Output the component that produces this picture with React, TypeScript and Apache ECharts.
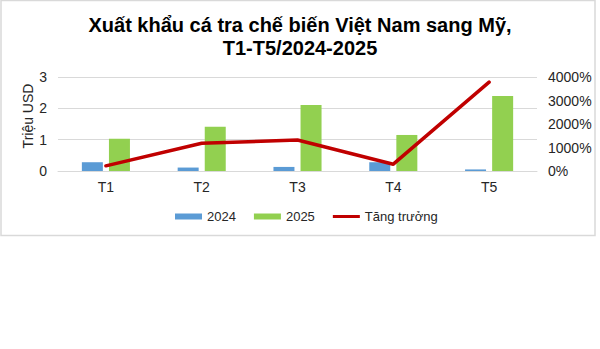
import React, { useEffect, useRef } from "react";
import * as echarts from "echarts";

// Months
const categories = ["T1", "T2", "T3", "T4", "T5"];
// Export value, million USD
const values2024 = [0.28, 0.11, 0.13, 0.28, 0.05];
const values2025 = [1.03, 1.41, 2.11, 1.15, 2.39];
// Year-on-year growth, %
const growth = [220, 1180, 1320, 290, 3780];

const leftTicks = { min: 0, max: 3, interval: 1 };
const rightTicks = { min: 0, max: 4000, interval: 1000 };

const FONT = "'Liberation Sans', Arial, sans-serif";
const TEXT = "#262626";
const GRID = "#d9d9d9";
const RED = "#C00000";

// Thin bar used as the legend key of the growth line (the move-to points fix its 27x6 box)
const LINE_KEY = "path://M0,0 M27,6 M0,1.5 L27,1.5 L27,4.5 L0,4.5 Z";

export default function App() {
  const ref = useRef<HTMLDivElement>(null);

  useEffect(() => {
    if (!ref.current) return;
    const chart = echarts.init(ref.current, undefined, { renderer: "svg" });
    chart.setOption({
      animation: false,
      backgroundColor: "#ffffff",
      textStyle: { fontFamily: FONT },
      graphic: [
        {
          type: "rect",
          shape: { x: 1, y: 0.5, width: 594, height: 235 },
          style: { fill: "none", stroke: GRID, lineWidth: 1.5 },
          silent: true,
        },
        {
          type: "text",
          x: 300,
          y: 13,
          silent: true,
          style: {
            text: "Xuất khẩu cá tra chế biến Việt Nam sang Mỹ,\nT1-T5/2024-2025",
            fontFamily: FONT,
            fontSize: 20,
            fontWeight: "bold",
            fill: "#000000",
            lineHeight: 23,
            align: "center",
            verticalAlign: "top",
          },
        },
      ],
      legend: {
        left: 175,
        top: 210,
        padding: 0,
        itemWidth: 27,
        itemHeight: 6,
        itemGap: 18,
        textStyle: { fontFamily: FONT, fontSize: 13, color: TEXT },
        data: [
          { name: "2024", icon: "rect" },
          { name: "2025", icon: "rect" },
          { name: "Tăng trưởng", icon: LINE_KEY },
        ],
      },
      grid: { left: 58, right: 63, top: 77, bottom: 178 },
      xAxis: {
        type: "category",
        data: categories,
        axisLine: { show: true, lineStyle: { color: GRID, width: 1 } },
        axisTick: { show: false },
        axisLabel: { fontFamily: FONT, fontSize: 14, color: TEXT, margin: 9 },
      },
      yAxis: [
        {
          type: "value",
          ...leftTicks,
          name: "Triệu USD",
          nameLocation: "middle",
          nameGap: 23,
          nameMoveOverlap: false,
          nameTextStyle: {
            fontFamily: FONT,
            fontSize: 14,
            color: TEXT,
            padding: [0, 0, 0, 16],
          },
          axisLine: { show: false },
          axisTick: { show: false },
          axisLabel: { fontFamily: FONT, fontSize: 14, color: TEXT, margin: 11 },
          splitLine: { lineStyle: { color: GRID, width: 1 } },
        },
        {
          type: "value",
          ...rightTicks,
          axisLine: { show: false },
          axisTick: { show: false },
          axisLabel: {
            fontFamily: FONT,
            fontSize: 14,
            color: TEXT,
            margin: 11,
            formatter: (v: number) => `${v}%`,
          },
          splitLine: { show: false },
        },
      ],
      series: [
        {
          name: "2024",
          type: "bar",
          data: values2024,
          barWidth: 21,
          barGap: "29%",
          itemStyle: { color: "#5B9BD5" },
        },
        {
          name: "2025",
          type: "bar",
          data: values2025,
          barWidth: 21,
          barGap: "29%",
          itemStyle: { color: "#92D050" },
        },
        {
          name: "Tăng trưởng",
          type: "line",
          yAxisIndex: 1,
          data: growth,
          symbol: "none",
          z: 5,
          lineStyle: { color: RED, width: 3.5, cap: "round", join: "round" },
          itemStyle: { color: RED },
        },
      ],
    });
    return () => chart.dispose();
  }, []);

  return (
    <div
      ref={ref}
      style={{ position: "fixed", left: 0, top: 0, width: 600, height: 349, background: "#fff" }}
    />
  );
}
